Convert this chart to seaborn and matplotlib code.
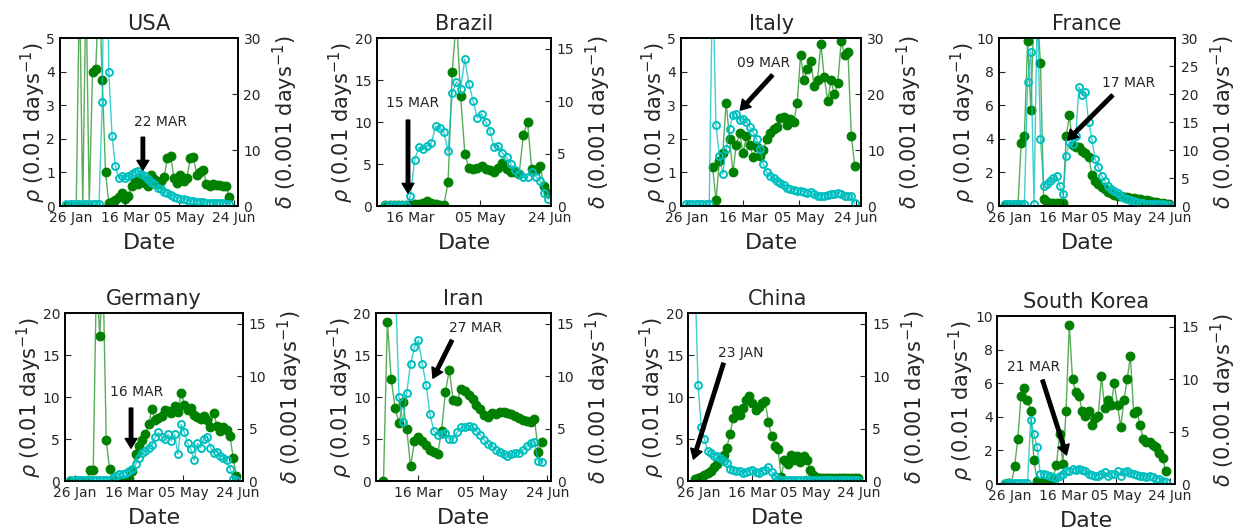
import matplotlib
matplotlib.use("Agg")
import pandas as pd
import matplotlib.pyplot as plt
import matplotlib.dates as mdates
import seaborn as sns

# values, one point every 3 days
# rho -> left axis (0.01 days^-1), delta -> right axis (0.001 days^-1)
usa_rho_start = "2020-01-22"
usa_rho = [0.05, 0.05, 0.05, 0.05, 0.05, 0.05, 0.05, 0.05, 0.05, 0.05, 0.05,
           3.1, 12, 4.0, 2.1, 1.2, 0.85, 0.9, 0.85, 0.9, 0.95, 1.0, 1.05, 0.95,
           0.9, 0.8, 0.72, 0.65, 0.55, 0.5, 0.42, 0.38, 0.32, 0.28, 0.25, 0.22,
           0.2, 0.18, 0.16, 0.14, 0.13, 0.12, 0.11, 0.1, 0.1, 0.09, 0.09, 0.08,
           0.08, 0.07, 0.07]
usa_delta_start = "2020-01-22"
usa_delta = [0, 0, 0, 0, 40, 0, 40, 0, 24, 24.5, 40, 22.5, 6, 0.5, 0.8, 1.0,
             1.6, 2.4, 1.3, 1.8, 3.5, 4.5, 4.0, 5.0, 4.2, 3.5, 5.5, 4.8, 4.0,
             4.5, 5.2, 8.5, 9.0, 5.0, 4.2, 5.5, 4.5, 5.0, 8.5, 8.8, 5.5, 6.0,
             6.5, 4.0, 3.6, 4.0, 3.8, 3.8, 3.6, 3.5, 1.7]

brazil_rho_start = "2020-02-27"
brazil_rho = [0.1, 0.1, 0.1, 0.1, 0.1, 0.1, 1.2, 5.5, 7.0, 6.8, 7.2, 7.5, 9.5,
              9.3, 8.8, 6.5, 13.5, 14.8, 14.0, 17.5, 14.5, 12.5, 10.5, 11.0,
              10.0, 9.0, 7.0, 7.2, 6.3, 5.8, 5.0, 4.3, 3.8, 3.5, 3.5, 4.0, 3.5,
              3.0, 1.5, 0.8]
brazil_delta_start = "2020-02-27"
brazil_delta = [0.1, 0.1, 0.1, 0.1, 0.1, 0.1, 0.1, 0.2, 0.2, 0.3, 0.5, 0.3,
                0.2, 0.1, 0.1, 2.3, 12.8, 18, 10.5, 5.0, 3.6, 3.5, 3.6, 3.8,
                3.5, 3.4, 3.2, 3.6, 4.1, 3.5, 3.2, 3.2, 3.1, 6.8, 8.0, 3.5,
                3.4, 3.8, 1.9, 1.2]

italy_rho_start = "2020-01-25"
italy_rho = [0.05, 0.05, 0.05, 0.05, 0.05, 0.05, 0.05, 0.05, 7, 2.4, 1.5,
             0.95, 1.7, 2.3, 2.7, 2.75, 2.55, 2.6, 2.5, 2.35, 2.2, 2.0, 1.7,
             1.25, 1.0, 0.9, 0.85, 0.75, 0.7, 0.62, 0.55, 0.5, 0.48, 0.45,
             0.45, 0.42, 0.4, 0.42, 0.35, 0.3, 0.3, 0.3, 0.32, 0.35, 0.35,
             0.38, 0.35, 0.3, 0.3, 0.3, 0.08]
italy_delta_start = "2020-02-18"
italy_delta = [7.0, 1.0, 8.0, 9.5, 18.5, 12.0, 6.0, 11.0, 13.0, 9.5, 12.5,
               11.0, 8.8, 10.5, 9.0, 10.0, 12.0, 13.0, 13.8, 14.2, 15.8, 16.0,
               14.5, 15.5, 15.0, 18.5, 27.0, 22.5, 24.5, 26.0, 21.5, 22.5,
               29.0, 23.0, 18.8, 22.5, 20.0, 22.0, 29.5, 27.0, 27.5, 12.5, 7.2]

france_rho_start = "2020-01-22"
france_rho = [0.1, 0.1, 0.1, 0.1, 0.1, 0.1, 0.1, 7.4, 9.2, 0.1, 12, 4.0, 1.2,
              1.3, 1.5, 1.7, 1.8, 1.2, 0.7, 3.0, 3.8, 3.7, 4.2, 7.1, 6.6, 6.8,
              5.0, 4.0, 2.8, 2.3, 1.8, 1.5, 1.2, 1.0, 0.9, 0.8, 0.6, 0.5, 0.4,
              0.35, 0.3, 0.25, 0.2, 0.2, 0.15, 0.15, 0.1, 0.1, 0.1, 0.1, 0.05,
              0.05]
france_delta_start = "2020-01-22"
france_delta = [0.2, 0.2, 0.2, 0.2, 0.2, 11.2, 12.5, 29.5, 17.2, 35, 35, 25.5,
                1.2, 0.8, 0.6, 0.5, 0.5, 0.5, 0.5, 12.5, 16.2, 11.0, 10.5,
                10.6, 9.8, 9.5, 8.8, 5.5, 4.5, 4.0, 3.4, 3.0, 2.5, 2.3, 2.0,
                1.8, 1.8, 1.7, 1.6, 1.4, 1.5, 1.3, 1.2, 1.1, 1.0, 0.9, 0.8,
                0.7, 0.6, 0.5, 0.4, 0.3]

germany_rho_start = "2020-01-22"
germany_rho = [0.1, 0.1, 0.1, 0.1, 0.1, 0.1, 0.1, 0.1, 0.1, 0.1, 0.1, 0.1,
               0.1, 0.4, 0.6, 0.8, 0.9, 0.95, 1.2, 1.5, 2.0, 2.8, 3.3, 3.6,
               4.0, 4.3, 5.2, 5.8, 5.3, 5.0, 5.6, 4.8, 5.6, 3.2, 6.8, 5.8, 4.5,
               3.8, 2.5, 4.5, 4.0, 5.0, 5.3, 4.0, 3.4, 3.5, 3.0, 2.8, 2.5, 1.5,
               0.3, 0.1]
germany_delta_start = "2020-01-22"
germany_delta = [0, 0, 0, 0, 0, 0, 1.05, 1.05, 20, 13.8, 20, 3.9, 1.2, 0, 0,
                 0, 0, 0, 0.3, 1.0, 2.6, 3.3, 3.9, 4.5, 5.4, 6.9, 5.8, 6.0,
                 6.2, 6.8, 6.7, 6.5, 7.2, 6.6, 8.4, 7.3, 6.8, 7.0, 6.3, 6.1,
                 5.9, 6.2, 5.8, 5.2, 6.5, 5.3, 4.8, 5.2, 4.9, 4.3, 2.2, 0.5]

iran_rho_start = "2020-02-27"
iran_rho = [25, 10.0, 7.0, 10.5, 14.0, 16.0, 16.8, 14.0, 11.5, 8.0, 6.0, 5.5,
            5.6, 5.7, 5.0, 5.0, 5.8, 6.4, 6.4, 6.6, 6.4, 6.0, 5.5, 4.9, 4.4,
            4.2, 3.7, 3.5, 3.2, 3.0, 3.2, 3.4, 3.3, 3.7, 4.2, 4.5, 4.6, 2.4,
            2.3]
iran_delta_start = "2020-02-18"
iran_delta = [0, 15.2, 9.7, 7.0, 5.5, 7.5, 5.0, 1.4, 3.8, 4.2, 3.8, 3.4, 3.0,
              2.8, 2.6, 4.8, 8.5, 10.6, 7.7, 7.6, 8.8, 8.6, 8.2, 7.8, 7.3,
              6.9, 6.3, 6.1, 6.5, 6.4, 6.6, 6.6, 6.5, 6.4, 6.2, 6.0, 5.8, 5.7,
              5.6, 5.9, 2.8, 3.7]

china_rho_start = "2020-01-22"
china_rho = [25, 11.5, 6.5, 5.0, 3.6, 3.4, 3.0, 3.0, 2.8, 2.4, 2.2, 1.5, 1.3,
             1.2, 1.2, 1.0, 1.1, 1.2, 1.3, 1.1, 1.0, 1.2, 1.3, 1.7, 1.1, 0.6,
             0.3, 0.15, 0.1, 0.1, 0.1, 0.1, 0.1, 0.1, 0.1, 0.1, 0.1, 0.1, 0.1,
             0.1, 0.1, 0.1, 0.1, 0.1, 0.1, 0.1, 0.1, 0.1, 0.1, 0.1, 0.1, 0.1]
china_delta_start = "2020-01-22"
china_delta = [0.2, 0.3, 0.4, 0.6, 0.8, 1.0, 1.3, 1.6, 2.0, 2.5, 3.2, 4.5,
               6.0, 6.8, 6.3, 7.0, 7.7, 8.1, 7.4, 6.8, 7.1, 7.4, 7.6, 5.6, 4.3,
               3.3, 3.1, 0.4, 2.0, 1.6, 2.5, 2.0, 2.4, 1.8, 2.4, 2.0, 1.1, 0.6,
               0.4, 0.3, 0.3, 0.3, 0.3, 0.3, 0.3, 0.3, 0.3, 0.3, 0.3, 0.3, 0.3,
               0.3]

korea_rho_start = "2020-01-22"
korea_rho = [0.05, 0.05, 0.05, 0.05, 0.05, 0.05, 0.05, 0.05, 3.8, 3.0, 2.2,
             0.6, 0.6, 0.55, 0.5, 0.4, 0.35, 0.5, 0.6, 0.75, 0.8, 0.9, 0.85,
             0.9, 0.85, 0.75, 0.6, 0.55, 0.5, 0.5, 0.6, 0.7, 0.5, 0.6, 0.6,
             0.75, 0.5, 0.7, 0.8, 0.65, 0.6, 0.55, 0.5, 0.5, 0.4, 0.45, 0.4,
             0.3, 0.3, 0.2, 0.1]
korea_delta_start = "2020-01-22"
korea_delta = [0, 0.1, 0, 1.7, 4.3, 8.4, 9.2, 8.0, 7.0, 2.3, 0.3, 0.2, 0.2,
               0.2, 0.2, 0.6, 1.8, 4.8, 1.9, 7.0, 15.2, 10.0, 8.8, 8.4, 7.0,
               6.5, 7.0, 5.6, 6.3, 6.5, 10.3, 7.2, 8.0, 7.5, 9.6, 7.5, 5.4,
               8.0, 10.0, 12.2, 6.8, 7.0, 5.6, 4.3, 4.0, 4.0, 3.7, 3.5, 3.0,
               2.5, 1.2]

countries = ["USA", "Brazil", "Italy", "France",
             "Germany", "Iran", "China", "South Korea"]
marked_dates = ["22 MAR", "15 MAR", "09 MAR", "17 MAR",
                "16 MAR", "27 MAR", "23 JAN", "21 MAR"]
tick_dates = ["2020-01-26", "2020-03-16", "2020-05-05", "2020-06-24"]

series = [
    (usa_rho_start, usa_rho, usa_delta_start, usa_delta),
    (brazil_rho_start, brazil_rho, brazil_delta_start, brazil_delta),
    (italy_rho_start, italy_rho, italy_delta_start, italy_delta),
    (france_rho_start, france_rho, france_delta_start, france_delta),
    (germany_rho_start, germany_rho, germany_delta_start, germany_delta),
    (iran_rho_start, iran_rho, iran_delta_start, iran_delta),
    (china_rho_start, china_rho, china_delta_start, china_delta),
    (korea_rho_start, korea_rho, korea_delta_start, korea_delta),
]

# panel layout: axes rect, x range, y limits/ticks, arrow (text, tail, tip) in axes fraction
panels = [
    dict(rect=[0.0485, 0.612, 0.144, 0.316], xlim=("2020-01-16", "2020-06-28"),
         ylim=(0, 5), yt=[0, 1, 2, 3, 4, 5], ylim2=(0, 30), yt2=[0, 10, 20, 30],
         txt=(0.567, 0.50), tail=(0.466, 0.41), tip=(0.466, 0.214)),
    dict(rect=[0.305, 0.612, 0.141, 0.316], xlim=("2020-02-21", "2020-06-25"),
         ylim=(0, 20), yt=[0, 5, 10, 15, 20], ylim2=(0, 16), yt2=[0, 5, 10, 15],
         txt=(0.207, 0.613), tail=(0.178, 0.512), tip=(0.178, 0.077)),
    dict(rect=[0.551, 0.612, 0.146, 0.316], xlim=("2020-01-21", "2020-06-29"),
         ylim=(0, 5), yt=[0, 1, 2, 3, 4, 5], ylim2=(0, 30), yt2=[0, 10, 20, 30],
         txt=(0.456, 0.851), tail=(0.506, 0.78), tip=(0.328, 0.571)),
    dict(rect=[0.808, 0.612, 0.143, 0.316], xlim=("2020-01-16", "2020-06-29"),
         ylim=(0, 10), yt=[0, 2, 4, 6, 8, 10], ylim2=(0, 30),
         yt2=[0, 5, 10, 15, 20, 25, 30],
         txt=(0.734, 0.732), tail=(0.644, 0.66), tip=(0.39, 0.393)),
    dict(rect=[0.0526, 0.094, 0.144, 0.316], xlim=("2020-01-17", "2020-06-29"),
         ylim=(0, 20), yt=[0, 5, 10, 15, 20], ylim2=(0, 16), yt2=[0, 5, 10, 15],
         txt=(0.40, 0.53), tail=(0.371, 0.435), tip=(0.371, 0.196)),
    dict(rect=[0.304, 0.094, 0.142, 0.316], xlim=("2020-02-12", "2020-06-27"),
         ylim=(0, 20), yt=[0, 5, 10, 15, 20], ylim2=(0, 16), yt2=[0, 5, 10, 15],
         txt=(0.571, 0.911), tail=(0.434, 0.839), tip=(0.326, 0.613)),
    dict(rect=[0.557, 0.094, 0.144, 0.316], xlim=("2020-01-16", "2020-07-01"),
         ylim=(0, 20), yt=[0, 5, 10, 15, 20], ylim2=(0, 16), yt2=[0, 5, 10, 15],
         txt=(0.292, 0.762), tail=(0.197, 0.702), tip=(0.028, 0.131)),
    dict(rect=[0.807, 0.0885, 0.144, 0.316], xlim=("2020-01-15", "2020-06-29"),
         ylim=(0, 10), yt=[0, 2, 4, 6, 8, 10], ylim2=(0, 16), yt2=[0, 5, 10, 15],
         txt=(0.202, 0.696), tail=(0.253, 0.619), tip=(0.388, 0.173)),
]

sns.set_style("ticks", {"axes.edgecolor": "black",
                        "xtick.direction": "in", "ytick.direction": "in"})
plt.rcParams["font.family"] = ["DejaVu Sans"]

cyan = "#00bfbf"
green = "#008000"
tick_size = 10
label_size = 15

fig = plt.figure(figsize=(12.36, 5.31), dpi=100)

for name, mark, (r0, rho, d0, delta), p in zip(countries, marked_dates, series, panels):
    ax = fig.add_axes(p["rect"])
    ax2 = ax.twinx()

    x_rho = pd.date_range(r0, periods=len(rho), freq="3D")
    x_delta = pd.date_range(d0, periods=len(delta), freq="3D")

    sns.lineplot(x=x_rho, y=rho, ax=ax, color=(0, 0.75, 0.75, 0.75), linewidth=1,
                 marker="o", markersize=5, markerfacecolor="none",
                 markeredgecolor=cyan, markeredgewidth=1.4)
    sns.lineplot(x=x_delta, y=delta, ax=ax2, color=(0, 0.5, 0, 0.65), linewidth=1,
                 marker="o", markersize=6.3, markerfacecolor=green,
                 markeredgecolor=green, markeredgewidth=0.8)

    # open cyan circles drawn above the green ones
    ax.set_zorder(ax2.get_zorder() + 1)
    ax.patch.set_visible(False)

    ax.set_xticks(pd.to_datetime(tick_dates))
    ax.xaxis.set_major_formatter(mdates.DateFormatter("%d %b"))
    ax.set_xlim(pd.Timestamp(p["xlim"][0]), pd.Timestamp(p["xlim"][1]))

    ax.set_ylim(*p["ylim"])
    ax.set_yticks(p["yt"])
    ax2.set_ylim(*p["ylim2"])
    ax2.set_yticks(p["yt2"])

    ax.set_title(name, fontsize=15)
    ax.set_xlabel("Date", fontsize=16, labelpad=6)
    ax.set_ylabel(r"$\rho$ (0.01 days$^{-1}$)", fontsize=label_size, labelpad=-1)
    ax2.set_ylabel(r"$\delta$ (0.001 days$^{-1}$)", fontsize=label_size, labelpad=7)

    ax.tick_params(axis="both", direction="in", labelsize=tick_size, length=4,
                   right=False, top=False)
    ax2.tick_params(axis="y", direction="in", labelsize=tick_size, length=4, pad=4)
    for a in (ax, ax2):
        for s in a.spines.values():
            s.set_linewidth(1.2)
            s.set_color("black")

    ax.annotate("", xy=p["tip"], xytext=p["tail"],
                xycoords="axes fraction", textcoords="axes fraction",
                arrowprops=dict(facecolor="black", edgecolor="black",
                                width=2.5, headwidth=8.5, headlength=7, shrink=0))
    ax.text(p["txt"][0], p["txt"][1], mark, transform=ax.transAxes,
            ha="center", va="center", fontsize=10)

fig.savefig("out.png", dpi=100)
